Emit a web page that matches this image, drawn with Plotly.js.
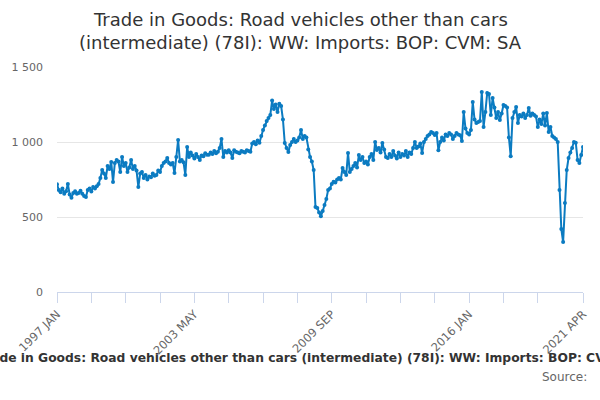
<!DOCTYPE html>
<html>
<head>
<meta charset="utf-8">
<script src="https://cdn.plot.ly/plotly-3.0.1.min.js"></script>
<style>html,body{margin:0;padding:0;background:#fff;}#chart{width:600px;height:400px;}</style>
</head>
<body>
<div id="chart"></div>
<script>
// Month names and first year of the series (categories are built from them)
var monthNames = ['JAN','FEB','MAR','APR','MAY','JUN','JUL','AUG','SEP','OCT','NOV','DEC'];
var startYear = 1997;

// Monthly values (£ million, CVM, SA), by year
var v1997 = [718, 680, 665, 690, 655, 672, 720, 650, 628, 660, 672, 655];
var v1998 = [660, 675, 655, 640, 633, 680, 690, 670, 700, 690, 705, 720];
var v1999 = [760, 813, 790, 760, 840, 820, 867, 733, 860, 880, 870, 800];
var v2000 = [900, 840, 860, 800, 830, 880, 820, 840, 810, 700, 790, 800];
var v2001 = [760, 780, 750, 770, 765, 790, 775, 780, 810, 800, 840, 860];
var v2002 = [870, 893, 860, 850, 860, 793, 900, 1013, 870, 880, 865, 780];
var v2003 = [967, 900, 930, 910, 890, 920, 900, 880, 910, 905, 925, 915];
var v2004 = [915, 930, 920, 940, 925, 935, 960, 1020, 900, 940, 930, 945];
var v2005 = [930, 893, 945, 935, 930, 925, 940, 935, 930, 945, 940, 935];
var v2006 = [990, 1000, 985, 1010, 995, 1040, 1080, 1110, 1140, 1160, 1180, 1276];
var v2007 = [1220, 1250, 1200, 1255, 1240, 1150, 993, 960, 933, 980, 1000, 1020];
var v2008 = [1000, 1010, 1030, 1080, 1020, 1040, 1030, 950, 900, 870, 813, 567];
var v2009 = [560, 530, 505, 540, 580, 620, 680, 690, 720, 735, 730, 750];
var v2010 = [760, 750, 827, 800, 780, 927, 800, 820, 840, 860, 830, 913];
var v2011 = [880, 900, 860, 870, 850, 900, 920, 880, 1000, 947, 960, 930];
var v2012 = [993, 950, 900, 893, 920, 900, 940, 910, 890, 930, 900, 920];
var v2013 = [910, 940, 900, 930, 920, 960, 1000, 960, 970, 990, 927, 1000];
var v2014 = [1020, 1040, 1050, 1067, 1060, 1047, 1060, 945, 1000, 1030, 1010, 1050];
var v2015 = [1040, 1060, 1050, 1020, 1040, 1060, 1050, 1045, 1007, 1200, 1090, 1060];
var v2016 = [1050, 1080, 1267, 1150, 1127, 1133, 1140, 1333, 1100, 1200, 1327, 1320];
var v2017 = [1180, 1293, 1230, 1160, 1200, 1147, 1190, 1247, 1240, 1230, 1030, 905];
var v2018 = [1160, 1200, 1233, 1127, 1180, 1170, 1190, 1160, 1180, 1227, 1175, 1190];
var v2019 = [1180, 1170, 1100, 1150, 1120, 1190, 1110, 1193, 1067, 1100, 1040, 1030];
var v2020 = [1020, 1000, 680, 420, 333, 593, 813, 893, 930, 960, 1000, 995];
var v2021 = [880, 860, 913, 967];

// Labelled x ticks
var tickLabels = ['1997 JAN', '2003 MAY', '2009 SEP', '2016 JAN', '2021 APR'];
var yTicks = [0, 500, 1000, 1500];

var values = [].concat(v1997, v1998, v1999, v2000, v2001, v2002, v2003, v2004, v2005,
  v2006, v2007, v2008, v2009, v2010, v2011, v2012, v2013, v2014, v2015, v2016,
  v2017, v2018, v2019, v2020, v2021);

var months = [];
for (var i = 0; i < values.length; i++) {
  months.push((startYear + Math.floor(i / 12)) + ' ' + monthNames[i % 12]);
}

// tick positions: every 19 months plus the final month
var tickVals = [], tickText = [];
for (var k = 0; k < months.length - 19; k += 19) {
  tickVals.push(months[k]);
  tickText.push(tickLabels.indexOf(months[k]) >= 0 ? months[k] : '');
}
tickVals.push(months[months.length - 1]);
tickText.push(months[months.length - 1]);

var titleLine1 = 'Trade in Goods: Road vehicles other than cars';
var titleLine2 = '(intermediate) (78I): WW: Imports: BOP: CVM: SA';
var fullTitle = titleLine1 + ' ' + titleLine2;

var trace = {
  x: months,
  y: values,
  type: 'scatter',
  mode: 'lines+markers',
  line: {color: '#0b7bc1', width: 2},
  marker: {color: '#0b7bc1', size: 4},
  hoverinfo: 'x+y'
};

var titleFont = {family: 'DejaVu Sans, sans-serif', size: 18, color: '#333333'};

var layout = {
  width: 600,
  height: 400,
  margin: {l: 57, r: 17, t: 67, b: 108},
  paper_bgcolor: '#ffffff',
  plot_bgcolor: '#ffffff',
  separators: '. ',
  font: {family: 'DejaVu Sans, sans-serif', color: '#666666', size: 11},
  showlegend: false,
  xaxis: {
    type: 'category',
    range: [0, months.length - 1],
    tickmode: 'array',
    tickvals: tickVals,
    ticktext: tickText,
    tickangle: -45,
    ticks: 'outside',
    ticklen: 10,
    tickcolor: '#ccd6eb',
    tickwidth: 1,
    showline: true,
    linecolor: '#ccd6eb',
    linewidth: 1,
    showgrid: false,
    zeroline: false,
    tickfont: {family: 'DejaVu Sans, sans-serif', size: 11.5, color: '#666666'}
  },
  yaxis: {
    range: [0, 1500],
    tickmode: 'array',
    tickvals: yTicks,
    separatethousands: true,
    tickformat: ',d',
    showgrid: true,
    gridcolor: '#e6e6e6',
    gridwidth: 1,
    zeroline: false,
    showline: false,
    ticks: '',
    ticklabelstandoff: 13,
    tickfont: {family: 'DejaVu Sans, sans-serif', size: 11, color: '#666666'}
  },
  annotations: [
    {
      text: titleLine1,
      xref: 'paper', yref: 'paper',
      x: 0.462, xanchor: 'center',
      y: 1.209, yanchor: 'middle',
      showarrow: false,
      font: titleFont
    },
    {
      text: titleLine2,
      xref: 'paper', yref: 'paper',
      x: 0.462, xanchor: 'center',
      y: 1.111, yanchor: 'middle',
      showarrow: false,
      font: titleFont
    },
    {
      text: '<b>' + fullTitle + '</b>',
      xref: 'paper', yref: 'paper',
      x: 0.483, xanchor: 'center',
      y: -0.293, yanchor: 'middle',
      showarrow: false,
      font: {family: 'DejaVu Sans, sans-serif', size: 12.3, color: '#333333'}
    },
    {
      text: 'Source:',
      xref: 'paper', yref: 'paper',
      x: 1.012, xanchor: 'right',
      y: -0.378, yanchor: 'middle',
      showarrow: false,
      font: {family: 'DejaVu Sans, sans-serif', size: 12, color: '#666666'}
    }
  ]
};

Plotly.newPlot('chart', [trace], layout, {displayModeBar: false, staticPlot: true});
</script>
</body>
</html>
